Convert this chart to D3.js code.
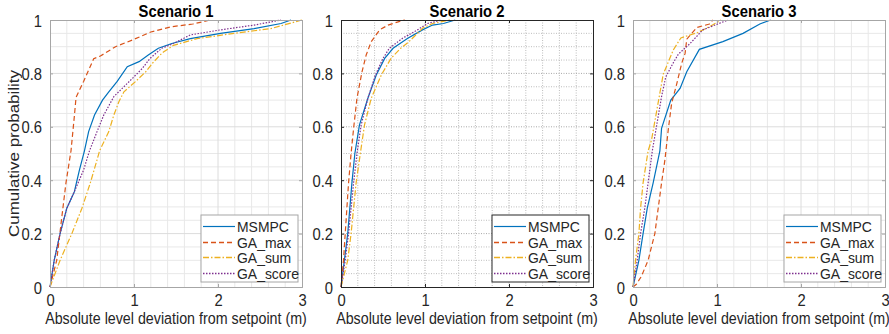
<!DOCTYPE html>
<html>
<head>
<meta charset="utf-8">
<script src="https://cdn.jsdelivr.net/npm/d3@7"></script>
<style>
  body { margin: 0; background: #fff; }
  text { font-family: "Liberation Sans", Arial, sans-serif; fill: #262626; }
  .title { font-weight: bold; font-size: 17px; fill: #000; }
  .tick-label { font-size: 17px; }
  .axis-label { font-size: 17px; }
  .legend text { font-size: 15px; }
  .line { fill: none; stroke-width: 1.2; }
</style>
</head>
<body>
<svg id="chart" width="889" height="334"></svg>
<script>
/*jshint esversion: 6 */

// chart data: [deviation (m), cumulative probability]
const titles = ['Scenario 1', 'Scenario 2', 'Scenario 3'];
const seriesNames = ['MSMPC', 'GA_max', 'GA_sum', 'GA_score'];
const xTicks = [0, 1, 2, 3];
const yTicks = [0, 0.2, 0.4, 0.6, 0.8, 1];

const s1MSMPC = [[0,0],[0.05,0.1],[0.12,0.2],[0.2,0.295],[0.29,0.357],[0.35,0.438],[0.41,0.51],[0.46,0.582],[0.53,0.644],[0.625,0.7],[0.7,0.731],[0.8,0.77],[0.92,0.825],[1.06,0.844],[1.17,0.869],[1.29,0.894],[1.45,0.912],[1.67,0.93],[2.03,0.95],[2.43,0.968],[2.75,0.987],[2.87,1]];
const s1GAmax = [[0,0],[0.08,0.1],[0.14,0.26],[0.19,0.39],[0.25,0.51],[0.29,0.64],[0.31,0.71],[0.4,0.77],[0.52,0.855],[0.6,0.865],[0.78,0.9],[0.98,0.925],[1.2,0.955],[1.45,0.975],[1.7,0.985],[1.91,1]];
const s1GAsum = [[0,0],[0.12,0.1],[0.26,0.2],[0.38,0.295],[0.48,0.39],[0.56,0.476],[0.59,0.51],[0.7,0.582],[0.76,0.644],[0.82,0.694],[0.88,0.731],[1.02,0.77],[1.14,0.806],[1.22,0.838],[1.31,0.869],[1.35,0.88],[1.47,0.905],[1.75,0.93],[2.19,0.95],[2.63,0.968],[3,1]];
const s1GAscore = [[0,0],[0.05,0.1],[0.12,0.2],[0.2,0.295],[0.29,0.357],[0.4,0.438],[0.47,0.51],[0.56,0.582],[0.64,0.644],[0.76,0.713],[0.86,0.744],[0.98,0.781],[1.1,0.819],[1.19,0.856],[1.33,0.894],[1.47,0.912],[1.67,0.944],[2.03,0.963],[2.43,0.981],[2.75,1]];

const s2MSMPC = [[0,0],[0.04,0.1],[0.08,0.2],[0.13,0.39],[0.165,0.5],[0.22,0.607],[0.32,0.707],[0.42,0.794],[0.52,0.856],[0.62,0.894],[0.79,0.931],[0.97,0.963],[1.09,0.981],[1.22,0.987],[1.36,1]];
const s2GAmax = [[0,0],[0.03,0.1],[0.05,0.2],[0.09,0.39],[0.12,0.5],[0.15,0.594],[0.19,0.707],[0.25,0.806],[0.3,0.869],[0.36,0.919],[0.46,0.963],[0.56,0.981],[0.69,0.994],[0.76,1]];
const s2GAsum = [[0,0],[0.08,0.1],[0.12,0.2],[0.18,0.39],[0.23,0.5],[0.28,0.607],[0.36,0.707],[0.48,0.794],[0.595,0.856],[0.71,0.894],[0.81,0.919],[0.89,0.944],[0.97,0.969],[1.09,0.987],[1.3,1]];
const s2GAscore = [[0,0],[0.05,0.1],[0.09,0.2],[0.15,0.39],[0.19,0.5],[0.24,0.607],[0.32,0.707],[0.41,0.794],[0.5,0.856],[0.575,0.894],[0.73,0.931],[0.91,0.963],[1.03,0.987],[1.2,1]];

const s3MSMPC = [[0,0],[0.07,0.1],[0.12,0.2],[0.17,0.295],[0.24,0.39],[0.32,0.51],[0.34,0.594],[0.45,0.7],[0.56,0.744],[0.64,0.806],[0.79,0.89],[1.07,0.919],[1.31,0.95],[1.51,0.985],[1.64,1]];
const s3GAmax = [[0,0],[0.04,0.01],[0.1,0.04],[0.18,0.1],[0.22,0.15],[0.26,0.2],[0.3,0.295],[0.34,0.39],[0.38,0.476],[0.42,0.59],[0.46,0.688],[0.52,0.76],[0.58,0.838],[0.62,0.875],[0.64,0.928],[0.76,0.972],[0.91,0.985],[0.95,1]];
const s3GAsum = [[0,0],[0.03,0.1],[0.07,0.2],[0.09,0.295],[0.12,0.39],[0.18,0.51],[0.22,0.55],[0.36,0.797],[0.48,0.888],[0.57,0.933],[0.77,0.953],[0.91,0.975],[1.05,1]];
const s3GAscore = [[0,0],[0.05,0.1],[0.09,0.2],[0.14,0.295],[0.18,0.39],[0.23,0.51],[0.34,0.713],[0.39,0.787],[0.48,0.84],[0.54,0.872],[0.68,0.912],[0.83,0.963],[1.13,1]];

const scenarioData = [
  [s1MSMPC, s1GAmax, s1GAsum, s1GAscore],
  [s2MSMPC, s2GAmax, s2GAsum, s2GAscore],
  [s3MSMPC, s3GAmax, s3GAsum, s3GAscore]
];

// styles
const colors = ['#0072BD', '#D95319', '#EDB120', '#7E2F8E'];
const dashes = [null, '5,3', '6,2,1.5,2', '1.5,1.5'];
const widths = [1.2, 1.3, 1.3, 1.6];
const boxColors = ['#a6a6a6', '#262626', '#a6a6a6'];
const squeeze = 0.87;   // text in the reference is narrow

const panelLeft = [50, 341, 633];
const panelTop = 20, width = 252, height = 267;

const svg = d3.select('#chart');

// put a text at (tx,ty) and squeeze it horizontally
function narrow(sel, tx, ty, extra, s) {
  sel.attr('x', null).attr('y', null).attr('dy', null)
    .attr('transform', 'translate(' + tx + ',' + ty + ') scale(' + (s || squeeze) + ',1)' + (extra || ''));
}

function panel(k) {
  let g = svg.append('g')
    .attr('transform', 'translate(' + panelLeft[k] + ',' + panelTop + ')');

  let x = d3.scaleLinear().domain([0, 3]).range([0, width]);
  let y = d3.scaleLinear().domain([0, 1]).range([height, 0]);

  let dotted = (k === 1);
  let minorColor = dotted ? '#bdbdbd' : '#e8e8e8';
  let majorColor = dotted ? '#a8a8a8' : '#dcdcdc';
  let gridDash = dotted ? '1,1.5' : null;

  // minor grid
  let minorX = d3.range(0, 3.001, 0.2).filter(v => Math.abs(v - Math.round(v)) > 1e-6);
  let minorY = d3.range(0, 1.001, 0.05).filter(v => Math.abs(v * 5 - Math.round(v * 5)) > 1e-6);
  g.selectAll('.minor-x').data(minorX).enter().append('line')
    .attr('x1', d => x(d)).attr('x2', d => x(d))
    .attr('y1', 0).attr('y2', height)
    .attr('stroke', minorColor)
    .attr('stroke-dasharray', gridDash);
  g.selectAll('.minor-y').data(minorY).enter().append('line')
    .attr('x1', 0).attr('x2', width)
    .attr('y1', d => y(d)).attr('y2', d => y(d))
    .attr('stroke', minorColor)
    .attr('stroke-dasharray', gridDash);

  // major grid
  g.selectAll('.major-x').data(xTicks.slice(1, -1)).enter().append('line')
    .attr('x1', d => x(d)).attr('x2', d => x(d))
    .attr('y1', 0).attr('y2', height)
    .attr('stroke', majorColor)
    .attr('stroke-dasharray', gridDash);
  g.selectAll('.major-y').data(yTicks.slice(1, -1)).enter().append('line')
    .attr('x1', 0).attr('x2', width)
    .attr('y1', d => y(d)).attr('y2', d => y(d))
    .attr('stroke', majorColor)
    .attr('stroke-dasharray', gridDash);

  // curves
  let line = d3.line()
    .x(d => x(d[0]))
    .y(d => y(d[1]));
  scenarioData[k].forEach((series, i) => {
    g.append('path')
      .data([series])
      .attr('class', 'line')
      .attr('stroke', colors[i])
      .attr('stroke-width', widths[i])
      .attr('stroke-dasharray', dashes[i])
      .attr('d', line);
  });

  // axes box with inward ticks on all sides
  let bc = boxColors[k];
  g.append('g')
    .attr('transform', 'translate(0,' + height + ')')
    .call(d3.axisBottom(x).tickValues(xTicks).tickSize(-3).tickFormat(d3.format('d')))
    .call(a => a.select('.domain').attr('stroke', bc))
    .call(a => a.selectAll('line').attr('stroke', bc))
    .call(a => a.selectAll('text').attr('class', 'tick-label').attr('fill', '#262626')
      .attr('text-anchor', 'middle').call(narrow, 0, 19));
  g.append('g')
    .call(d3.axisLeft(y).tickValues(yTicks).tickSize(-3).tickFormat(d => d3.format('')(+d.toFixed(1))))
    .call(a => a.select('.domain').attr('stroke', bc))
    .call(a => a.selectAll('line').attr('stroke', bc))
    .call(a => a.selectAll('text').attr('class', 'tick-label').attr('fill', '#262626')
      .attr('text-anchor', 'end').call(narrow, -8, 6));
  g.append('g')
    .call(d3.axisTop(x).tickValues(xTicks).tickSize(-3).tickFormat(''))
    .call(a => a.select('.domain').attr('stroke', bc))
    .call(a => a.selectAll('line').attr('stroke', bc));
  g.append('g')
    .attr('transform', 'translate(' + width + ',0)')
    .call(d3.axisRight(y).tickValues(yTicks).tickSize(-3).tickFormat(''))
    .call(a => a.select('.domain').attr('stroke', bc))
    .call(a => a.selectAll('line').attr('stroke', bc));

  // title
  g.append('text')
    .attr('class', 'title')
    .attr('text-anchor', 'middle')
    .text(titles[k])
    .call(narrow, width / 2, -3);

  // x label
  g.append('text')
    .attr('class', 'axis-label')
    .attr('text-anchor', 'middle')
    .text('Absolute level deviation from setpoint (m)')
    .call(narrow, width / 2, height + 37, '', 0.84);

  if (k === 0) {
    g.append('text')
      .attr('class', 'axis-label')
      .attr('text-anchor', 'middle')
      .text('Cumulative probability')
      .call(narrow, -31, height / 2, ' rotate(-90)');
  }

  // legend
  let legend = g.append('g')
    .attr('class', 'legend')
    .attr('transform', 'translate(151,195)');
  legend.append('rect')
    .attr('width', 97)
    .attr('height', 67)
    .attr('fill', 'white')
    .attr('stroke', bc)
    .attr('stroke-width', 1);
  seriesNames.forEach((name, i) => {
    let ly = Math.round(11 + i * 15.5) + 0.5;
    legend.append('line')
      .attr('x1', 2).attr('x2', 34)
      .attr('y1', ly).attr('y2', ly)
      .attr('stroke', colors[i])
      .attr('stroke-width', widths[i])
      .attr('stroke-dasharray', dashes[i]);
    legend.append('text')
      .text(name)
      .call(narrow, 36, ly + 5, '', 0.93);
  });
}

panel(0);
panel(1);
panel(2);
</script>
</body>
</html>
